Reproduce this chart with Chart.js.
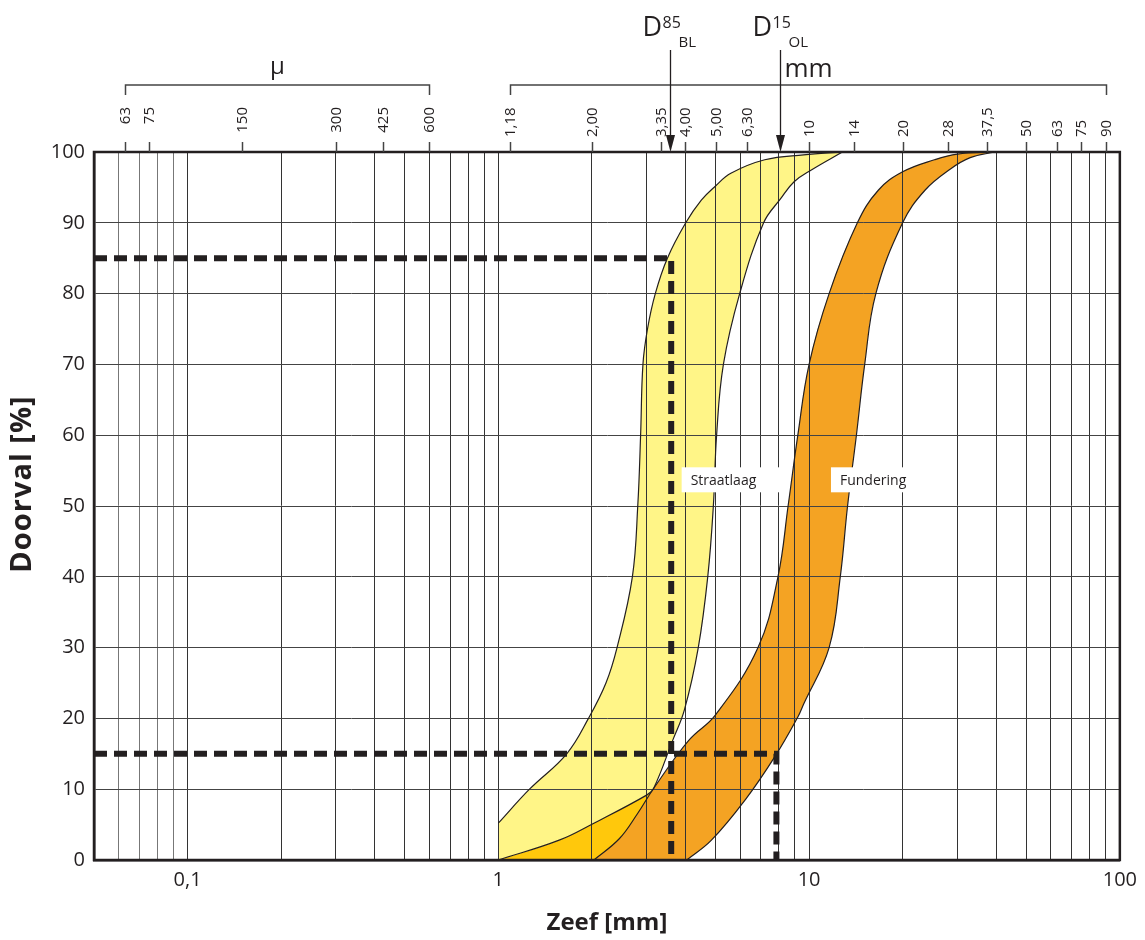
<!DOCTYPE html>
<html><head><meta charset="utf-8">
<script src="https://cdn.jsdelivr.net/npm/chart.js@4.4.1/dist/chart.umd.min.js"></script>
<style>html,body{margin:0;padding:0;background:#fff}#wrap{width:1145px;height:940px;position:relative}</style>
</head><body><div id="wrap"><canvas id="c"></canvas></div>
<script>
// ---- data (x = sieve size in mm, y = passing %) ----
const straatlaagFineX = [1, 1.26, 1.66, 1.95, 2.22, 2.41, 2.70, 2.81, 2.87, 2.92, 3.02, 3.20, 3.5, 4.01, 4.5, 5.0, 5.6, 7.2, 9.6, 12.8];
const straatlaagFineY = [5.2, 10, 15, 20, 25, 30, 40, 50, 60, 70, 75, 80, 85, 90, 93.2, 95.2, 97, 98.9, 99.6, 100];
const straatlaagCoarseX = [1, 1.57, 2.03, 3.01, 3.16, 3.64, 3.97, 4.4, 4.72, 4.92, 5.04, 5.3, 5.98, 7.14, 8.1, 8.95, 10.2, 12.8];
const straatlaagCoarseY = [0, 2.8, 5.2, 9.2, 10.1, 16.9, 21.2, 30, 40, 50, 60, 70, 80, 90, 93.4, 95.8, 97.5, 100];
const overlapX = [1, 1.57, 2.03, 3.01, 3.16];
const overlapY = [0, 2.8, 5.2, 9.2, 10.1];
const funderingFineX = [2.03, 2.45, 2.8, 3.16, 4.1, 5.0, 6.85, 7.94, 8.56, 9.2, 10.0, 11.6, 14.3, 16.7, 20.0, 25.3, 30.0, 39.6];
const funderingFineY = [0, 3, 6.5, 10.1, 16.9, 20.5, 30, 40, 50, 60, 70, 80, 90, 94.6, 97.2, 98.9, 99.7, 100];
const funderingFootX = [2.03, 2.45, 2.8, 3.16, 4.1];
const funderingFootY = [0, 3, 6.5, 10.1, 16.9];
const funderingCoarseX = [4.04, 4.85, 6.23, 7.76, 9.2, 9.6, 11.6, 12.6, 13.3, 14.2, 15.1, 16.4, 20.0, 23.6, 28.5, 33.0, 39.6];
const funderingCoarseY = [0, 2.8, 8.5, 14.6, 20.2, 22, 30, 40, 50, 60, 70, 80, 90, 94.6, 97.6, 99.2, 100];
const d85X = [0.05, 3.6, 3.6];
const d85Y = [85, 85, 0];
const d15X = [0.05, 7.85, 7.85];
const d15Y = [15, 15, 0];
// top sieve scale
const muTickPos = [0.063, 0.075, 0.15, 0.3, 0.425, 0.6];
const muTickLabels = ['63', '75', '150', '300', '425', '600'];
const mmTickPos = [1.09, 2, 3.35, 4, 5, 6.3, 10, 14, 20, 28, 37.5, 50, 63, 75, 90];
const mmTickLabels = ['1,18', '2,00', '3,35', '4,00', '5,00', '6,30', '10', '14', '20', '28', '37,5', '50', '63', '75', '90'];
const xLabelMap = {0.1: '0,1', 1: '1', 10: '10', 100: '100'};
const arrows = [{x: 3.56, sup: '85', sub: 'BL'}, {x: 8.07, sup: '15', sub: 'OL'}];
const bandLabels = [{x: 3.89, y: 53.7, text: 'Straatlaag', w: 99}, {x: 11.76, y: 53.7, text: 'Fundering', w: 92}];

const pts = (xs, ys) => xs.map((v, i) => ({x: v, y: ys[i]}));
const FONT = '"Open Sans", "Noto Sans", sans-serif';
const INK = '#231f20';
Chart.defaults.font.family = FONT;
Chart.defaults.color = INK;

const gridVals = [];
for (let e = -2; e <= 1; e++) for (let s = 1; s <= 9; s++) {
  const v = +(s * Math.pow(10, e)).toPrecision(3);
  if (v >= 0.05 && v <= 100) gridVals.push(v);
}
gridVals.push(100);

const lineBase = {borderColor: INK, borderWidth: 1.2, pointRadius: 0, tension: 0.4};

const annot = {
  id: 'annot',
  afterDatasetsDraw(chart) {
    const {ctx, scales: {x, y}} = chart;
    ctx.save();
    ctx.font = '14px ' + FONT;
    ctx.textBaseline = 'middle';
    ctx.textAlign = 'left';
    bandLabels.forEach(b => {
      const px = x.getPixelForValue(b.x), py = y.getPixelForValue(b.y);
      ctx.fillStyle = '#fff';
      ctx.fillRect(px, py - 12.5, b.w, 25);
      ctx.fillStyle = INK;
      ctx.fillText(b.text, px + 9, py + 1);
    });
    ctx.restore();
  },
  afterDraw(chart) {
    const {ctx, chartArea: a, scales: {x}} = chart;
    ctx.save();
    // frame
    ctx.strokeStyle = INK; ctx.lineWidth = 2.5;
    ctx.strokeRect(a.left, a.top, a.right - a.left, a.bottom - a.top);
    // y title
    ctx.save();
    ctx.translate(23, 484);
    ctx.rotate(-Math.PI / 2);
    ctx.font = 'bold 29px ' + FONT;
    try { ctx.letterSpacing = '1px'; } catch (e) {}
    ctx.textAlign = 'center'; ctx.textBaseline = 'middle';
    ctx.fillStyle = INK;
    ctx.fillText('Doorval [%]', 0, 0);
    ctx.restore();
    // top ticks + labels
    ctx.strokeStyle = '#444'; ctx.lineWidth = 1.5;
    ctx.fillStyle = INK;
    ctx.font = '15px ' + FONT;
    ctx.textBaseline = 'middle';
    const drawGroup = (pos, labels, align, ly) => {
      pos.forEach((v, i) => {
        const px = Math.round(x.getPixelForValue(v)) + 0.5;
        ctx.beginPath(); ctx.moveTo(px, a.top - 10); ctx.lineTo(px, a.top); ctx.stroke();
        ctx.save();
        ctx.translate(px, ly);
        ctx.rotate(-Math.PI / 2);
        ctx.textAlign = align;
        ctx.fillText(labels[i], 0, 0);
        ctx.restore();
      });
      const x0 = Math.round(x.getPixelForValue(pos[0])) + 0.5;
      const x1 = Math.round(x.getPixelForValue(pos[pos.length - 1])) + 0.5;
      ctx.beginPath();
      ctx.moveTo(x0, 95); ctx.lineTo(x0, 85); ctx.lineTo(x1, 85); ctx.lineTo(x1, 95);
      ctx.stroke();
      return (x0 + x1) / 2;
    };
    const muC = drawGroup(muTickPos, muTickLabels, 'right', 107);
    const mmC = drawGroup(mmTickPos, mmTickLabels, 'left', 137);
    ctx.textAlign = 'center';
    ctx.font = '24px ' + FONT;
    ctx.fillText('\u03bc', muC, 67);
    ctx.font = '26px ' + FONT;
    ctx.fillText('mm', mmC, 70);
    // D arrows
    arrows.forEach(ar => {
      const px = Math.round(x.getPixelForValue(ar.x)) + 0.5;
      ctx.strokeStyle = INK; ctx.lineWidth = 1.3;
      ctx.beginPath(); ctx.moveTo(px, 50); ctx.lineTo(px, a.top - 14); ctx.stroke();
      ctx.fillStyle = INK;
      ctx.beginPath(); ctx.moveTo(px - 4.5, a.top - 17); ctx.lineTo(px + 4.5, a.top - 17); ctx.lineTo(px, a.top); ctx.closePath(); ctx.fill();
      ctx.textAlign = 'left'; ctx.textBaseline = 'alphabetic';
      ctx.font = '27px ' + FONT; ctx.fillText('D', px - 28, 36);
      ctx.font = '16px ' + FONT; ctx.fillText(ar.sup, px - 8, 28);
      ctx.font = '15px ' + FONT; ctx.fillText(ar.sub, px + 8, 47);
    });
    ctx.restore();
  }
};

const dash = {borderColor: INK, borderWidth: 6, borderDash: [13, 7], pointRadius: 0, fill: false, tension: 0, borderCapStyle: 'butt', borderJoinStyle: 'miter'};

new Chart(document.getElementById('c'), {
  type: 'line',
  data: {
    datasets: [
      Object.assign({data: pts(d85X, d85Y)}, dash),
      Object.assign({data: pts(d15X, d15Y)}, dash),
      Object.assign({data: pts(funderingFineX, funderingFineY), fill: 3, backgroundColor: '#f4a323'}, lineBase),
      Object.assign({data: pts(funderingCoarseX, funderingCoarseY), fill: false}, lineBase),
      Object.assign({data: pts(straatlaagFineX, straatlaagFineY), fill: 5, backgroundColor: '#fff587'}, lineBase),
      Object.assign({data: pts(straatlaagCoarseX, straatlaagCoarseY), fill: false}, lineBase),
      Object.assign({data: pts(funderingFootX, funderingFootY), fill: 'origin', backgroundColor: '#f4a323'}, lineBase, {borderWidth: 0}),
      Object.assign({data: pts(overlapX, overlapY), fill: 'origin', backgroundColor: '#ffc80c'}, lineBase, {borderWidth: 0})
    ]
  },
  options: {
    responsive: true, maintainAspectRatio: false, animation: false,
    layout: {padding: {top: 152, right: 21, left: 0, bottom: 0}},
    plugins: {legend: {display: false}, tooltip: {enabled: false}, filler: {drawTime: 'beforeDraw'}},
    scales: {
      x: {
        type: 'logarithmic', min: 0.05, max: 100,
        afterBuildTicks: s => { s.ticks = gridVals.map(v => ({value: v})); },
        afterFit: s => { s.height = 80; },
        ticks: {autoSkip: false, maxRotation: 0, padding: 8, font: {size: 20}, color: INK,
          callback: v => (xLabelMap[v] !== undefined ? xLabelMap[v] : '')},
        grid: {drawTicks: false, lineWidth: 1, color: c => (c.tick && c.tick.value < 0.1 ? '#777' : '#333')},
        border: {display: true, color: INK, width: 2.5},
        title: {display: true, text: 'Zeef [mm]', font: {size: 24, weight: 'bold'}, color: INK, padding: {top: 0, bottom: 2}}
      },
      y: {
        min: 0, max: 100,
        afterFit: s => { s.width = 94; },
        ticks: {stepSize: 10, padding: 9, font: {size: 20}, color: INK},
        grid: {drawTicks: false, lineWidth: 1, color: '#444'},
        border: {display: true, color: INK, width: 2.5},
        title: {display: false}
      }
    }
  },
  plugins: [annot]
});
</script>
</body></html>
